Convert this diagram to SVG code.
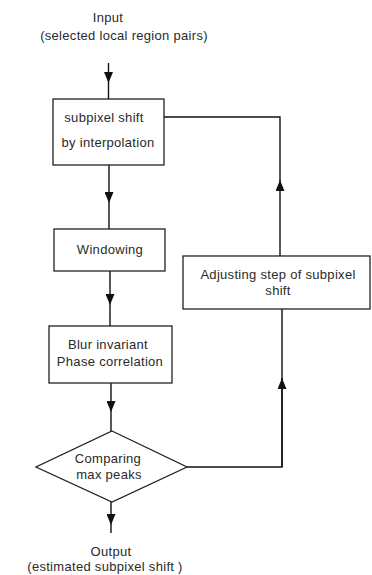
<svg xmlns="http://www.w3.org/2000/svg" width="372" height="575" viewBox="0 0 372 575">
<style>
text{font-family:"Liberation Sans",Arial,sans-serif;font-size:13px;letter-spacing:0.3px;fill:#2a2a2a;text-anchor:middle}
.box{fill:#fff;stroke:#222;stroke-width:1.3}
.ln{fill:none;stroke:#111;stroke-width:1.4}
</style>
<defs>
<marker id="ah" viewBox="0 0 11 9" refX="11" refY="4.5" markerWidth="11" markerHeight="9" markerUnits="userSpaceOnUse" orient="auto">
<path d="M0,0 L11,4.5 L0,9 Z" fill="#111"/>
</marker>
</defs>
<rect width="372" height="575" fill="#fff"/>
<g id="connectors">
<path class="ln" d="M108.5,63 L108.5,83 L108.5,99" marker-mid="url(#ah)"/>
<path class="ln" d="M109,165 L109,203 L109,229" marker-mid="url(#ah)"/>
<path class="ln" d="M110,271 L110,305 L110,326" marker-mid="url(#ah)"/>
<path class="ln" d="M111,383 L111,412 L111,431" marker-mid="url(#ah)"/>
<path class="ln" d="M111,502 L111,525 L111,533" marker-mid="url(#ah)"/>
<path class="ln" d="M187,467 L282,467 L282,378"/>
<path class="ln" d="M282,467 L282,378" marker-end="url(#ah)"/>
<path class="ln" d="M282,379 L282,309"/>
<path class="ln" d="M280,256 L280,180" marker-end="url(#ah)"/>
<path class="ln" d="M280,181 L280,117 L164,117"/>
</g>
<g id="input"><text x="108" y="22">Input</text><text x="124" y="40">(selected local region pairs)</text></g>
<g id="subpixel-shift"><rect class="box" x="53" y="99" width="111" height="66"/><text x="104" y="122">subpixel shift</text><text x="108" y="147">by interpolation</text></g>
<g id="windowing"><rect class="box" x="54" y="229" width="111" height="42"/><text x="110" y="254">Windowing</text></g>
<g id="blur"><rect class="box" x="49" y="326" width="123" height="57"/><text x="108" y="349">Blur invariant</text><text x="110" y="366">Phase correlation</text></g>
<g id="comparing"><path class="box" d="M112,431 L187,467 L112,502 L36,467 Z"/><text x="108" y="463">Comparing</text><text x="109" y="479">max peaks</text></g>
<g id="adjusting"><rect class="box" x="183" y="256" width="187" height="53"/><text x="278" y="279">Adjusting step of subpixel</text><text x="278" y="295">shift</text></g>
<g id="output"><text x="111" y="556">Output</text><text x="105" y="571">(estimated subpixel shift )</text></g>
</svg>
